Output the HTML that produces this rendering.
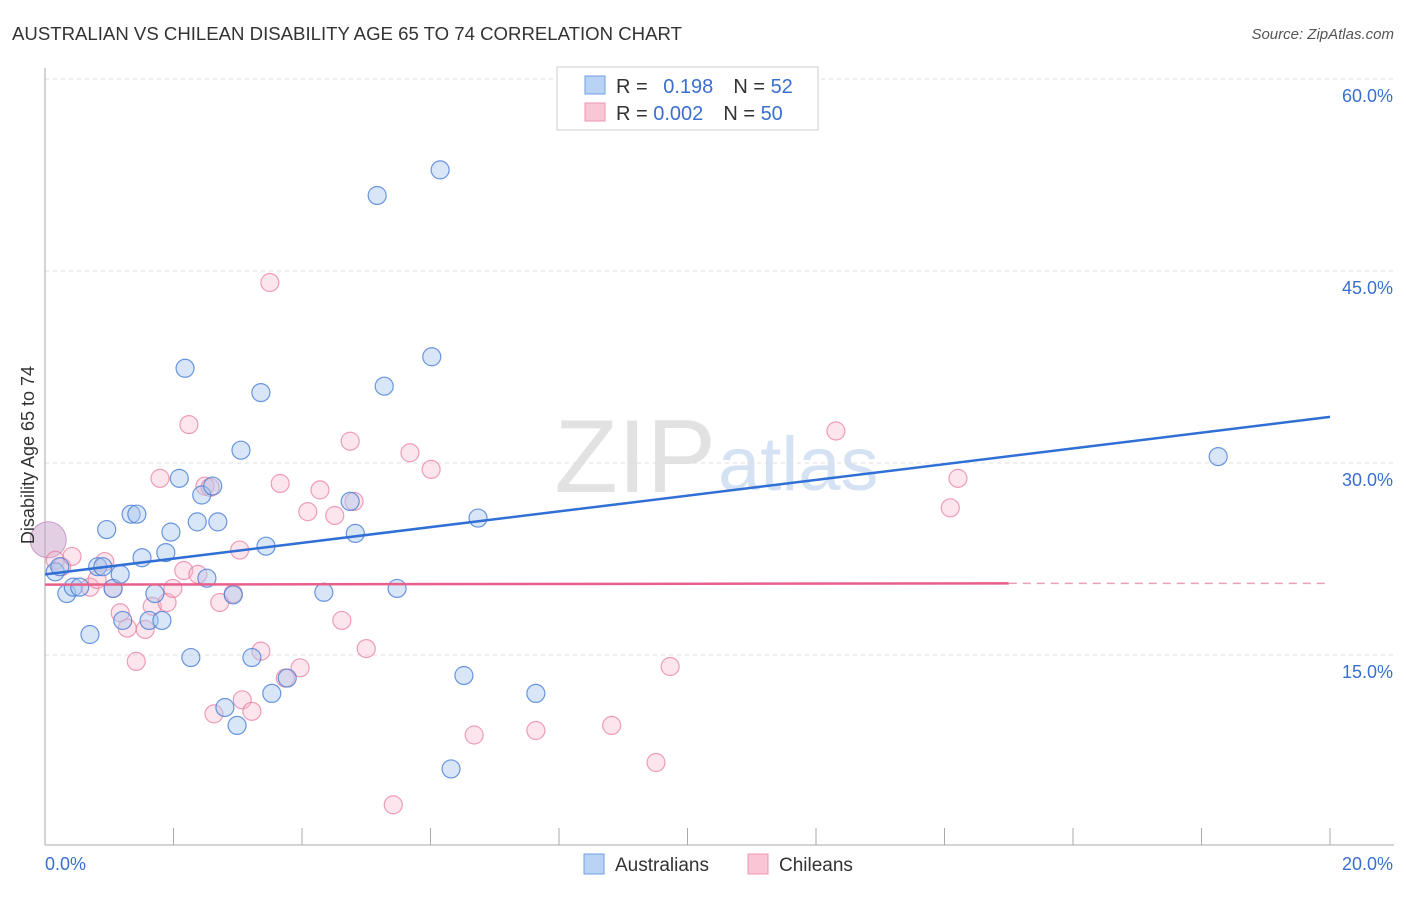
<!DOCTYPE html>
<html><head><meta charset="utf-8"><style>
body{margin:0;background:#fff;font-family:"Liberation Sans",sans-serif;}
svg text{font-family:"Liberation Sans",sans-serif;}
</style></head><body>
<svg id="c" width="1406" height="892" xmlns="http://www.w3.org/2000/svg">
<text x="12" y="40" font-size="18.6" fill="#333">AUSTRALIAN VS CHILEAN DISABILITY AGE 65 TO 74 CORRELATION CHART</text>
<text x="1394" y="39" font-size="15" fill="#555" text-anchor="end" font-style="italic">Source: ZipAtlas.com</text>
<text x="716" y="492" font-size="104" fill="#e2e2e2" text-anchor="end" font-family="Liberation Serif">ZIP</text>
<text x="718" y="490" font-size="76" fill="#d5e2f3">atlas</text>
<g id="grid"></g>
<g id="axes"></g>
<g id="pts"></g>
<g id="trend"></g>
<text x="34" y="455" font-size="18" fill="#333" text-anchor="middle" transform="rotate(-90 34 455)">Disability Age 65 to 74</text>
<g>
<rect x="557" y="67" width="261" height="63" fill="#fff" stroke="#ccc"/>
<rect x="585" y="76" width="20" height="18" fill="#b9d3f5" stroke="#6f9fe0"/>
<rect x="585" y="103" width="20" height="18" fill="#f8c6d5" stroke="#ee97b0"/>
<text x="616" y="93" font-size="20" fill="#333">R = <tspan fill="#3a6fd0" dx="10">0.198</tspan><tspan fill="#333" dx="20">N = </tspan><tspan fill="#3a6fd0">52</tspan></text>
<text x="616" y="120" font-size="20" fill="#333">R = <tspan fill="#3a6fd0">0.002</tspan><tspan fill="#333" dx="20">N = </tspan><tspan fill="#3a6fd0">50</tspan></text>
</g>
<g>
<rect x="584" y="854" width="20" height="20" fill="#b9d3f5" stroke="#6f9fe0"/>
<text x="615" y="871" font-size="19" fill="#333">Australians</text>
<rect x="748" y="854" width="20" height="20" fill="#f8c6d5" stroke="#ee97b0"/>
<text x="779" y="871" font-size="19" fill="#333">Chileans</text>
</g>
</svg>
<script>
const yTicks=[15,30,45,60];
const yTickLabels=["15.0%","30.0%","45.0%","60.0%"];
const xTicks=[0,2,4,6,8,10,12,14,16,18,20];
const xEndLabels=["0.0%","20.0%"];
const ausX=[0.16,0.23,0.34,0.44,0.54,0.70,0.82,0.90,0.96,1.06,1.17,1.21,1.34,1.43,1.51,1.62,1.71,1.82,1.88,1.96,2.09,2.18,2.27,2.37,2.44,2.52,2.61,2.69,2.80,2.93,2.99,3.05,3.22,3.36,3.44,3.53,3.77,4.34,4.75,4.83,5.17,5.28,5.48,6.02,6.15,6.32,6.52,6.74,7.64,18.26];
const ausY=[21.5,21.9,19.8,20.3,20.3,16.6,21.9,21.9,24.8,20.2,21.3,17.7,26.0,26.0,22.6,17.7,19.8,17.7,23.0,24.6,28.8,37.4,14.8,25.4,27.5,21.0,28.2,25.4,10.9,19.7,9.5,31.0,14.8,35.5,23.5,12.0,13.2,19.9,27.0,24.5,50.9,36.0,20.2,38.3,52.9,6.1,13.4,25.7,12.0,30.5];
const chiX=[0.16,0.26,0.42,0.70,0.81,0.93,1.06,1.17,1.28,1.42,1.56,1.67,1.79,1.90,1.99,2.16,2.24,2.38,2.49,2.57,2.63,2.72,2.93,3.03,3.07,3.22,3.36,3.50,3.66,3.74,3.97,4.09,4.28,4.51,4.62,4.75,4.81,5.00,5.42,5.68,6.01,6.68,7.64,8.82,9.51,9.73,12.31,14.09,14.21];
const chiY=[22.4,21.9,22.7,20.3,20.9,22.3,20.2,18.3,17.1,14.5,17.0,18.8,28.8,19.1,20.2,21.6,33.0,21.3,28.2,28.1,10.4,19.1,19.8,23.2,11.5,10.6,15.3,44.1,28.4,13.2,14.0,26.2,27.9,25.9,17.7,31.7,27.0,15.5,3.3,30.8,29.5,8.75,9.1,9.5,6.6,14.1,32.5,26.5,28.8];
const bigPoint=[0.05,24.0];
const ausTrend=[[0,21.3],[20,33.6]];
const chiTrend=[[0,20.5],[15,20.6],[20,20.6]];
const NS="http://www.w3.org/2000/svg";
const sx=v=>45+v*64.25, sy=v=>847-v*12.8;
function mk(p,t,a){const e=document.createElementNS(NS,t);for(const k in a)e.setAttribute(k,a[k]);p.appendChild(e);return e;}
const grid=document.getElementById('grid'),axes=document.getElementById('axes'),pts=document.getElementById('pts'),tr=document.getElementById('trend');
yTicks.forEach((v,i)=>{
 const l=mk(grid,'line',{x1:45,x2:1394,y1:sy(v),y2:sy(v),stroke:'#ddd','stroke-dasharray':'4 4'});
 
 
 const t=mk(grid,'text',{x:1393,y:sy(v)+23,'font-size':18,fill:'#3a6fd0','text-anchor':'end'});t.textContent=yTickLabels[i];
 
 
});
const ax=mk(axes,'line',{x1:45,x2:1394,y1:845,y2:845,stroke:'#aaa'});


const ay=mk(axes,'line',{x1:45,x2:45,y1:68,y2:845,stroke:'#aaa'});


xTicks.forEach(v=>{const t=mk(axes,'line',{x1:sx(v),x2:sx(v),y1:828,y2:845,stroke:'#aaa'});
 
 });
[[0,'start'],[20,'end']].forEach((d,i)=>{const t=mk(axes,'text',{x:i?1393:45,y:870,'font-size':18,fill:'#3a6fd0','text-anchor':d[1]});t.textContent=xEndLabels[i];
 
 });
function dot(x,y,r,f,s,name){const c=mk(pts,'circle',{cx:sx(x),cy:sy(y),r:r,fill:f,stroke:s,'stroke-width':1.2});
 
 }
const big=mk(pts,'circle',{cx:sx(bigPoint[0]),cy:sy(bigPoint[1]),r:18,fill:'rgba(200,160,200,0.5)',stroke:'#c79ac6'});


chiX.forEach((x,i)=>dot(x,chiY[i],9,'rgba(246,180,200,0.35)','rgba(232,120,155,0.7)','chilean-point'));
ausX.forEach((x,i)=>dot(x,ausY[i],9,'rgba(170,200,240,0.45)','rgba(70,125,215,0.8)','australian-point'));
const bl=mk(tr,'line',{x1:sx(ausTrend[0][0]),y1:sy(ausTrend[0][1]),x2:sx(ausTrend[1][0]),y2:sy(ausTrend[1][1]),stroke:'#2f6fd6','stroke-width':2.5});


const pl=mk(tr,'line',{x1:sx(chiTrend[0][0]),y1:sy(chiTrend[0][1]),x2:sx(chiTrend[1][0]),y2:sy(chiTrend[1][1]),stroke:'#e8608a','stroke-width':2.5});


const pd=mk(tr,'line',{x1:sx(chiTrend[1][0]),y1:sy(chiTrend[1][1]),x2:sx(chiTrend[2][0]),y2:sy(chiTrend[2][1]),stroke:'#e8a0b5','stroke-width':1.5,'stroke-dasharray':'8 6'});


</script>
</body></html>
